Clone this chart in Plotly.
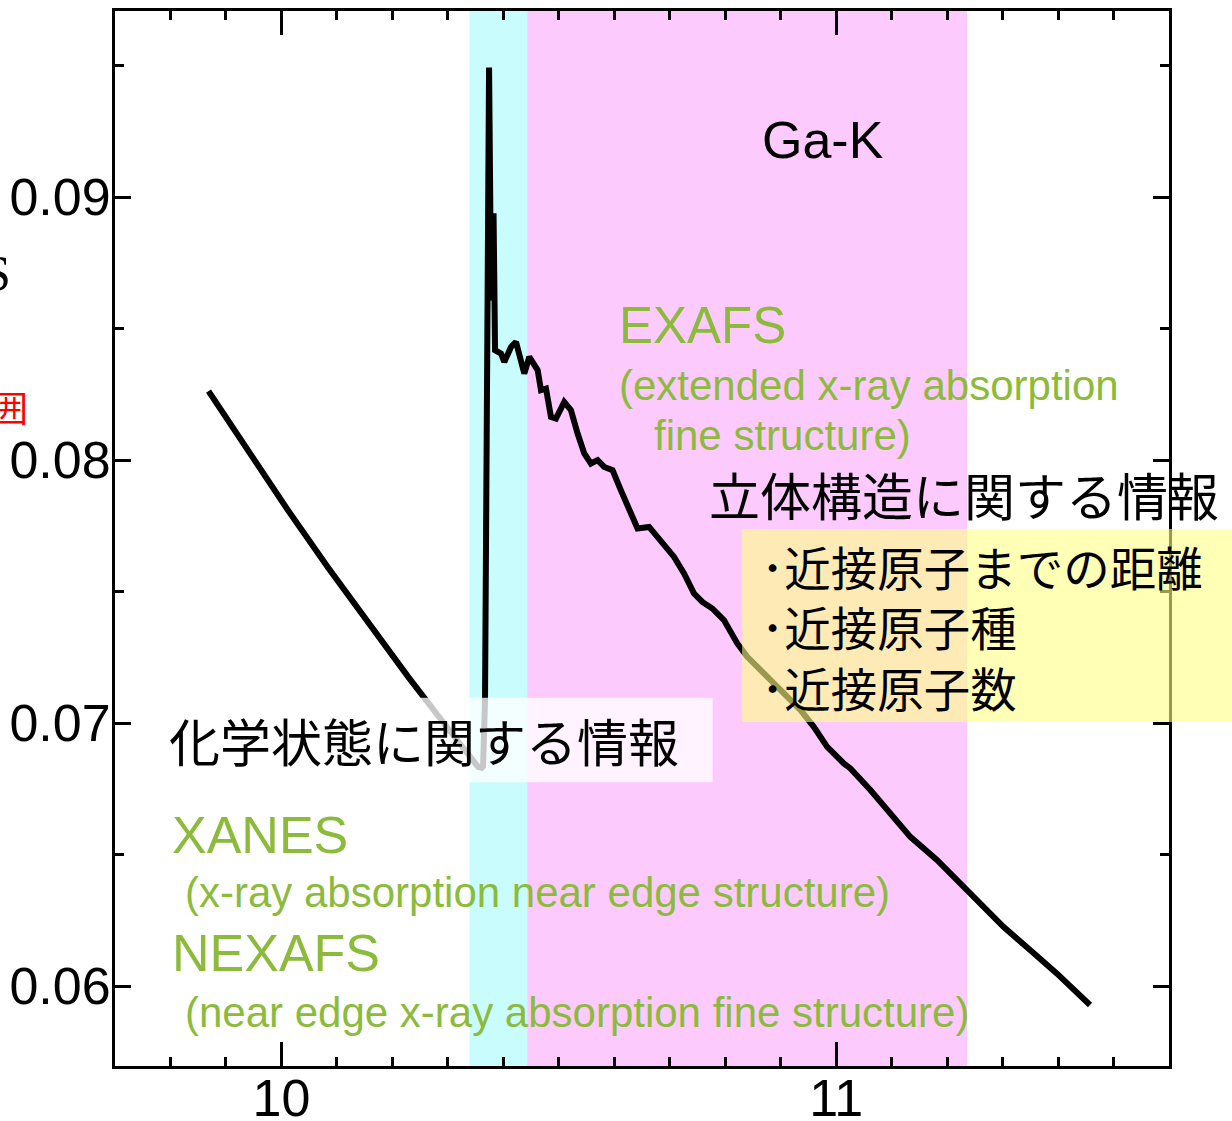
import plotly.graph_objects as go

# Ga K-edge absorption spectrum (energy in keV)
energy_kev = [9.8686, 9.9406, 10.0126, 10.0846, 10.1566, 10.2285, 10.3005, 10.3401, 10.3545,
              10.3610, 10.3635, 10.367, 10.3743, 10.378, 10.3824, 10.3851,
              10.3959, 10.4018, 10.4139, 10.4229, 10.4378, 10.4468, 10.4619, 10.4679, 10.4769, 10.4859,
              10.4949, 10.5098, 10.5219, 10.5339, 10.5459, 10.5579, 10.5699, 10.5819, 10.5969, 10.6118,
              10.6298, 10.6419, 10.6628, 10.6838, 10.7078, 10.7258, 10.7438, 10.7588, 10.7768, 10.7977,
              10.8218, 10.8398, 10.8698, 10.9058, 10.9358, 10.9597, 10.9838, 11.0137, 11.0257, 11.0617,
              11.0977, 11.1337, 11.1817, 11.2357, 11.2656, 11.3016, 11.3496, 11.3977, 11.4576]
absorbance = [0.08262, 0.08031, 0.07807, 0.07590, 0.07380, 0.07176, 0.06979, 0.06873, 0.06834,
              0.06830, 0.06836, 0.07087, 0.09492, 0.08607, 0.08938, 0.08418,
              0.08405, 0.08373, 0.08430, 0.08449, 0.08329, 0.08392, 0.08342, 0.08266, 0.08272, 0.08164,
              0.08158, 0.08221, 0.08190, 0.08101, 0.08025, 0.07987, 0.08000, 0.07974, 0.07962, 0.07886,
              0.07797, 0.07740, 0.07746, 0.07696, 0.07632, 0.07569, 0.07493, 0.07461, 0.07436, 0.07392,
              0.07303, 0.07252, 0.07189, 0.07113, 0.07050, 0.06986, 0.06910, 0.06847, 0.06828, 0.06746,
              0.06657, 0.06568, 0.06480, 0.06366, 0.06302, 0.06226, 0.06138, 0.06049, 0.05929]

# Spectral regions (keV)
xanes_range = [10.339, 10.443]
exafs_range = [10.443, 11.236]

# Axis ticks
x_tick_vals = [10, 11]
x_tick_text = ["10", "11"]
y_tick_vals = [0.06, 0.07, 0.08, 0.09]
y_tick_text = ["0.06", "0.07", "0.08", "0.09"]

# Structural information listed in the yellow panel
structure_items = ["近接原子までの距離", "近接原子種", "近接原子数"]

GREEN = "#8cbb3c"
SANS = "Liberation Sans, Arial, sans-serif"
JP = "Noto Sans CJK JP, sans-serif"

fig = go.Figure()
fig.add_trace(go.Scatter(
    x=energy_kev, y=absorbance, mode="lines",
    line=dict(color="black", width=6),
    showlegend=False, hoverinfo="skip",
))

# coloured energy regions
fig.add_shape(type="rect", xref="x", yref="paper", x0=xanes_range[0], x1=xanes_range[1],
              y0=0, y1=1, fillcolor="#c9fdfd", line_width=0, layer="below")
fig.add_shape(type="rect", xref="x", yref="paper", x0=exafs_range[0], x1=exafs_range[1],
              y0=0, y1=1, fillcolor="#fdcafd", line_width=0, layer="below")

# translucent text panels
fig.add_shape(type="rect", xref="paper", yref="paper", x0=0.043, x1=0.567, y0=0.269, y1=0.349,
              fillcolor="rgba(255,255,255,0.78)", line_width=0, layer="above")
fig.add_shape(type="rect", xref="paper", yref="paper", x0=0.595, x1=1.2, y0=0.326, y1=0.509,
              fillcolor="rgba(255,255,133,0.6)", line_width=0, layer="above")

def label(x, y, text, size, color="black", font=SANS, xref="x", yref="y"):
    fig.add_annotation(x=x, y=y, xref=xref, yref=yref, text=text, showarrow=False,
                       xanchor="left", yanchor="middle", align="left",
                       font=dict(family=font, size=size, color=color))

label(10.863, 0.09215, "Ga-K", 52)
label(10.605, 0.08513, "EXAFS", 51, GREEN)
label(10.605, 0.08285, "(extended x-ray absorption", 42, GREEN)
label(10.668, 0.08095, "fine structure)", 42, GREEN)
label(10.767, 0.0787, "立体構造に関する情報", 51, font=JP)
label(10.861, 0.07368, "<br>".join("･" + item for item in structure_items), 46.5, font=JP)
label(9.794, 0.06935, "化学状態に関する情報", 51, font=JP)
label(9.799, 0.06575, "XANES", 52, GREEN)
label(9.822, 0.06355, "(x-ray absorption near edge structure)", 42, GREEN)
label(9.799, 0.06127, "NEXAFS", 52, GREEN)
label(9.822, 0.05902, "(near edge x-ray absorption fine structure)", 42, GREEN)

# side captions that run off the left edge of the page
fig.add_annotation(x=-0.097, y=0.752, xref="paper", yref="paper", text="XAFS", showarrow=False,
                   xanchor="right", yanchor="middle",
                   font=dict(family="Liberation Serif, serif", size=50, color="black"))
fig.add_annotation(x=-0.081, y=0.626, xref="paper", yref="paper", text="測定範囲", showarrow=False,
                   xanchor="right", yanchor="middle",
                   font=dict(family=JP, size=36, color="red"))

axis_common = dict(
    showline=True, linewidth=3, linecolor="black", mirror="allticks",
    ticks="inside", tickwidth=3, tickcolor="black", showgrid=False, zeroline=False,
    tickfont=dict(family=SANS, size=52, color="black"), tickmode="array",
    automargin=False,
)
fig.update_xaxes(range=[9.70, 11.60], tickvals=x_tick_vals, ticktext=x_tick_text, ticklen=24,
                 ticklabelstandoff=-15,
                 minor=dict(dtick=0.1, tick0=10, ticks="inside", ticklen=9, tickwidth=3,
                            tickcolor="black"),
                 **axis_common)
fig.update_yaxes(range=[0.05697, 0.09707], tickvals=y_tick_vals, ticktext=y_tick_text, ticklen=16,
                 ticklabelstandoff=-9,
                 minor=dict(dtick=0.005, tick0=0.06, ticks="inside", ticklen=9, tickwidth=3,
                            tickcolor="black"),
                 **axis_common)

fig.update_layout(
    width=1232, height=1121,
    margin=dict(l=115, r=63, t=11, b=55, pad=0),
    paper_bgcolor="white", plot_bgcolor="white",
    showlegend=False,
)

fig.write_html("out.html")
